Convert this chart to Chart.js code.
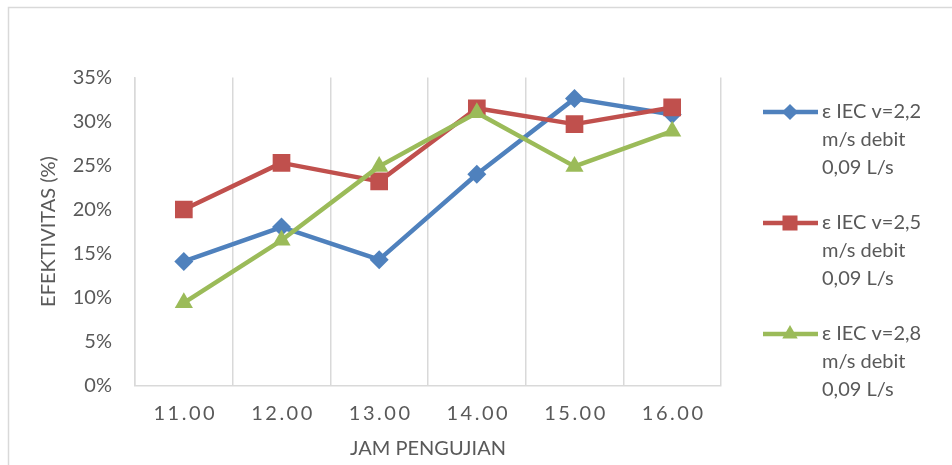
<!DOCTYPE html>
<html>
<head>
<meta charset="utf-8">
<script src="https://cdn.jsdelivr.net/npm/chart.js"></script>
<style>
  html, body { margin: 0; padding: 0; background: #fff; }
</style>
</head>
<body>
<canvas id="chart" width="952" height="465"></canvas>
<script>
const hours = ["11.00", "12.00", "13.00", "14.00", "15.00", "16.00"];
const seriesNames = [
  "ε IEC v=2,2 m/s debit 0,09 L/s",
  "ε IEC v=2,5 m/s debit 0,09 L/s",
  "ε IEC v=2,8 m/s debit 0,09 L/s"
];
const blueValues = [14.1, 18.0, 14.3, 24.0, 32.6, 30.8];
const redValues = [20.0, 25.3, 23.2, 31.5, 29.7, 31.6];
const greenValues = [9.4, 16.5, 24.9, 31.0, 24.9, 28.9];
const yMin = 0, yMax = 35, yStep = 5;

const fontFamily = 'Lato, "Noto Sans", sans-serif';
const textColor = '#595959';
const gridColor = '#d9d9d9';

Chart.defaults.font.family = fontFamily;
Chart.defaults.font.size = 20;
Chart.defaults.color = textColor;

//frame round the whole chart + white background
const framePlugin = {
  id: 'frame',
  beforeDraw(chart) {
    const ctx = chart.ctx;
    ctx.save();
    ctx.fillStyle = '#fff';
    ctx.fillRect(0, 0, chart.width, chart.height);
    ctx.strokeStyle = gridColor;
    ctx.lineWidth = 1.5;
    ctx.strokeRect(8.5, 7.5, 2000, 2000);
    ctx.restore();

    // spaced out x tick labels
    const sx = chart.scales.x;
    if (!sx._spaced) {
      const orig = sx.drawLabels;
      sx.drawLabels = function (area) {
        this.ctx.save();
        this.ctx.letterSpacing = '2.5px';
        this.ctx.translate(1.5, 0);
        orig.call(this, area);
        this.ctx.restore();
      };
      sx._spaced = true;
    }
  }
};

//legend on the right, wrapped text
const sideLegend = {
  id: 'sideLegend',
  afterDraw(chart) {
    const ctx = chart.ctx;
    ctx.save();
    ctx.font = '20px ' + fontFamily;
    ctx.textBaseline = 'middle';
    chart.data.datasets.forEach((ds, i) => {
      const y = 112 + i * 111;
      ctx.strokeStyle = ds.borderColor;
      ctx.lineWidth = 4.5;
      ctx.beginPath();
      ctx.moveTo(763, y);
      ctx.lineTo(818, y);
      ctx.stroke();
      ctx.fillStyle = ds.pointBackgroundColor;
      Chart.helpers.drawPoint(ctx, {
        pointStyle: ds.pointStyle,
        radius: ds.pointRadius * 0.85,
        rotation: 0,
        borderWidth: 0
      }, 790, y);

      // wrap label
      const words = ds.label.split(' ');
      const lines = [];
      let line = '';
      words.forEach(w => {
        const test = line ? line + ' ' + w : w;
        if (ctx.measureText(test).width > 122 && line) {
          lines.push(line);
          line = w;
        } else {
          line = test;
        }
      });
      lines.push(line);
      ctx.fillStyle = textColor;
      lines.forEach((t, j) => ctx.fillText(t, 822, y + j * 28));
    });
    ctx.restore();
  }
};

const chartCanvas = document.getElementById('chart');

let efekData = {
  labels: hours,
  datasets: [{
    label: seriesNames[0],
    data: blueValues,
    borderColor: '#4F81BD',
    backgroundColor: '#4F81BD',
    pointBackgroundColor: '#4F81BD',
    pointStyle: 'rectRot',
    pointRadius: 9.5,
    order: 2
  }, {
    label: seriesNames[1],
    data: redValues,
    borderColor: '#C0504D',
    backgroundColor: '#C0504D',
    pointBackgroundColor: '#C0504D',
    pointStyle: 'rect',
    pointRadius: 12.5,
    order: 1
  }, {
    label: seriesNames[2],
    data: greenValues,
    borderColor: '#9BBB59',
    backgroundColor: '#9BBB59',
    pointBackgroundColor: '#9BBB59',
    pointStyle: 'triangle',
    pointRadius: 10.5,
    order: 0
  }]
};

efekData.datasets.forEach(ds => {
  ds.borderWidth = 4.5;
  ds.pointBorderWidth = 0;
  ds.pointHoverRadius = ds.pointRadius;
  ds.tension = 0;
  ds.borderJoinStyle = 'round';
  ds.fill = false;
});

let efekOptions = {
  responsive: false,
  animation: { duration: 0 },
  layout: { padding: { top: 77.5, right: 231, left: 0, bottom: 0 } },
  scales: {
    x: {
      offset: true,
      grid: { offset: true, color: gridColor, lineWidth: 1.5, drawTicks: false },
      border: { color: gridColor, width: 1.5 },
      ticks: { padding: 16 },
      title: { display: true, text: 'JAM PENGUJIAN', padding: { top: 0, bottom: 4 } },
      afterFit: s => { s.height = 79.5; }
    },
    y: {
      min: yMin,
      max: yMax,
      grid: { display: false, drawTicks: false },
      border: { display: true, color: gridColor, width: 1.5 },
      ticks: { stepSize: yStep, padding: 23, callback: v => v + '%' },
      title: { display: true, text: 'EFEKTIVITAS (%)', padding: { top: 37, bottom: 0 } },
      afterFit: s => { s.width = 135; }
    }
  },
  plugins: {
    legend: { display: false },
    tooltip: { enabled: false }
  }
};

let efekChart = new Chart(chartCanvas, {
  type: 'line',
  data: efekData,
  options: efekOptions,
  plugins: [framePlugin, sideLegend]
});
</script>
</body>
</html>
